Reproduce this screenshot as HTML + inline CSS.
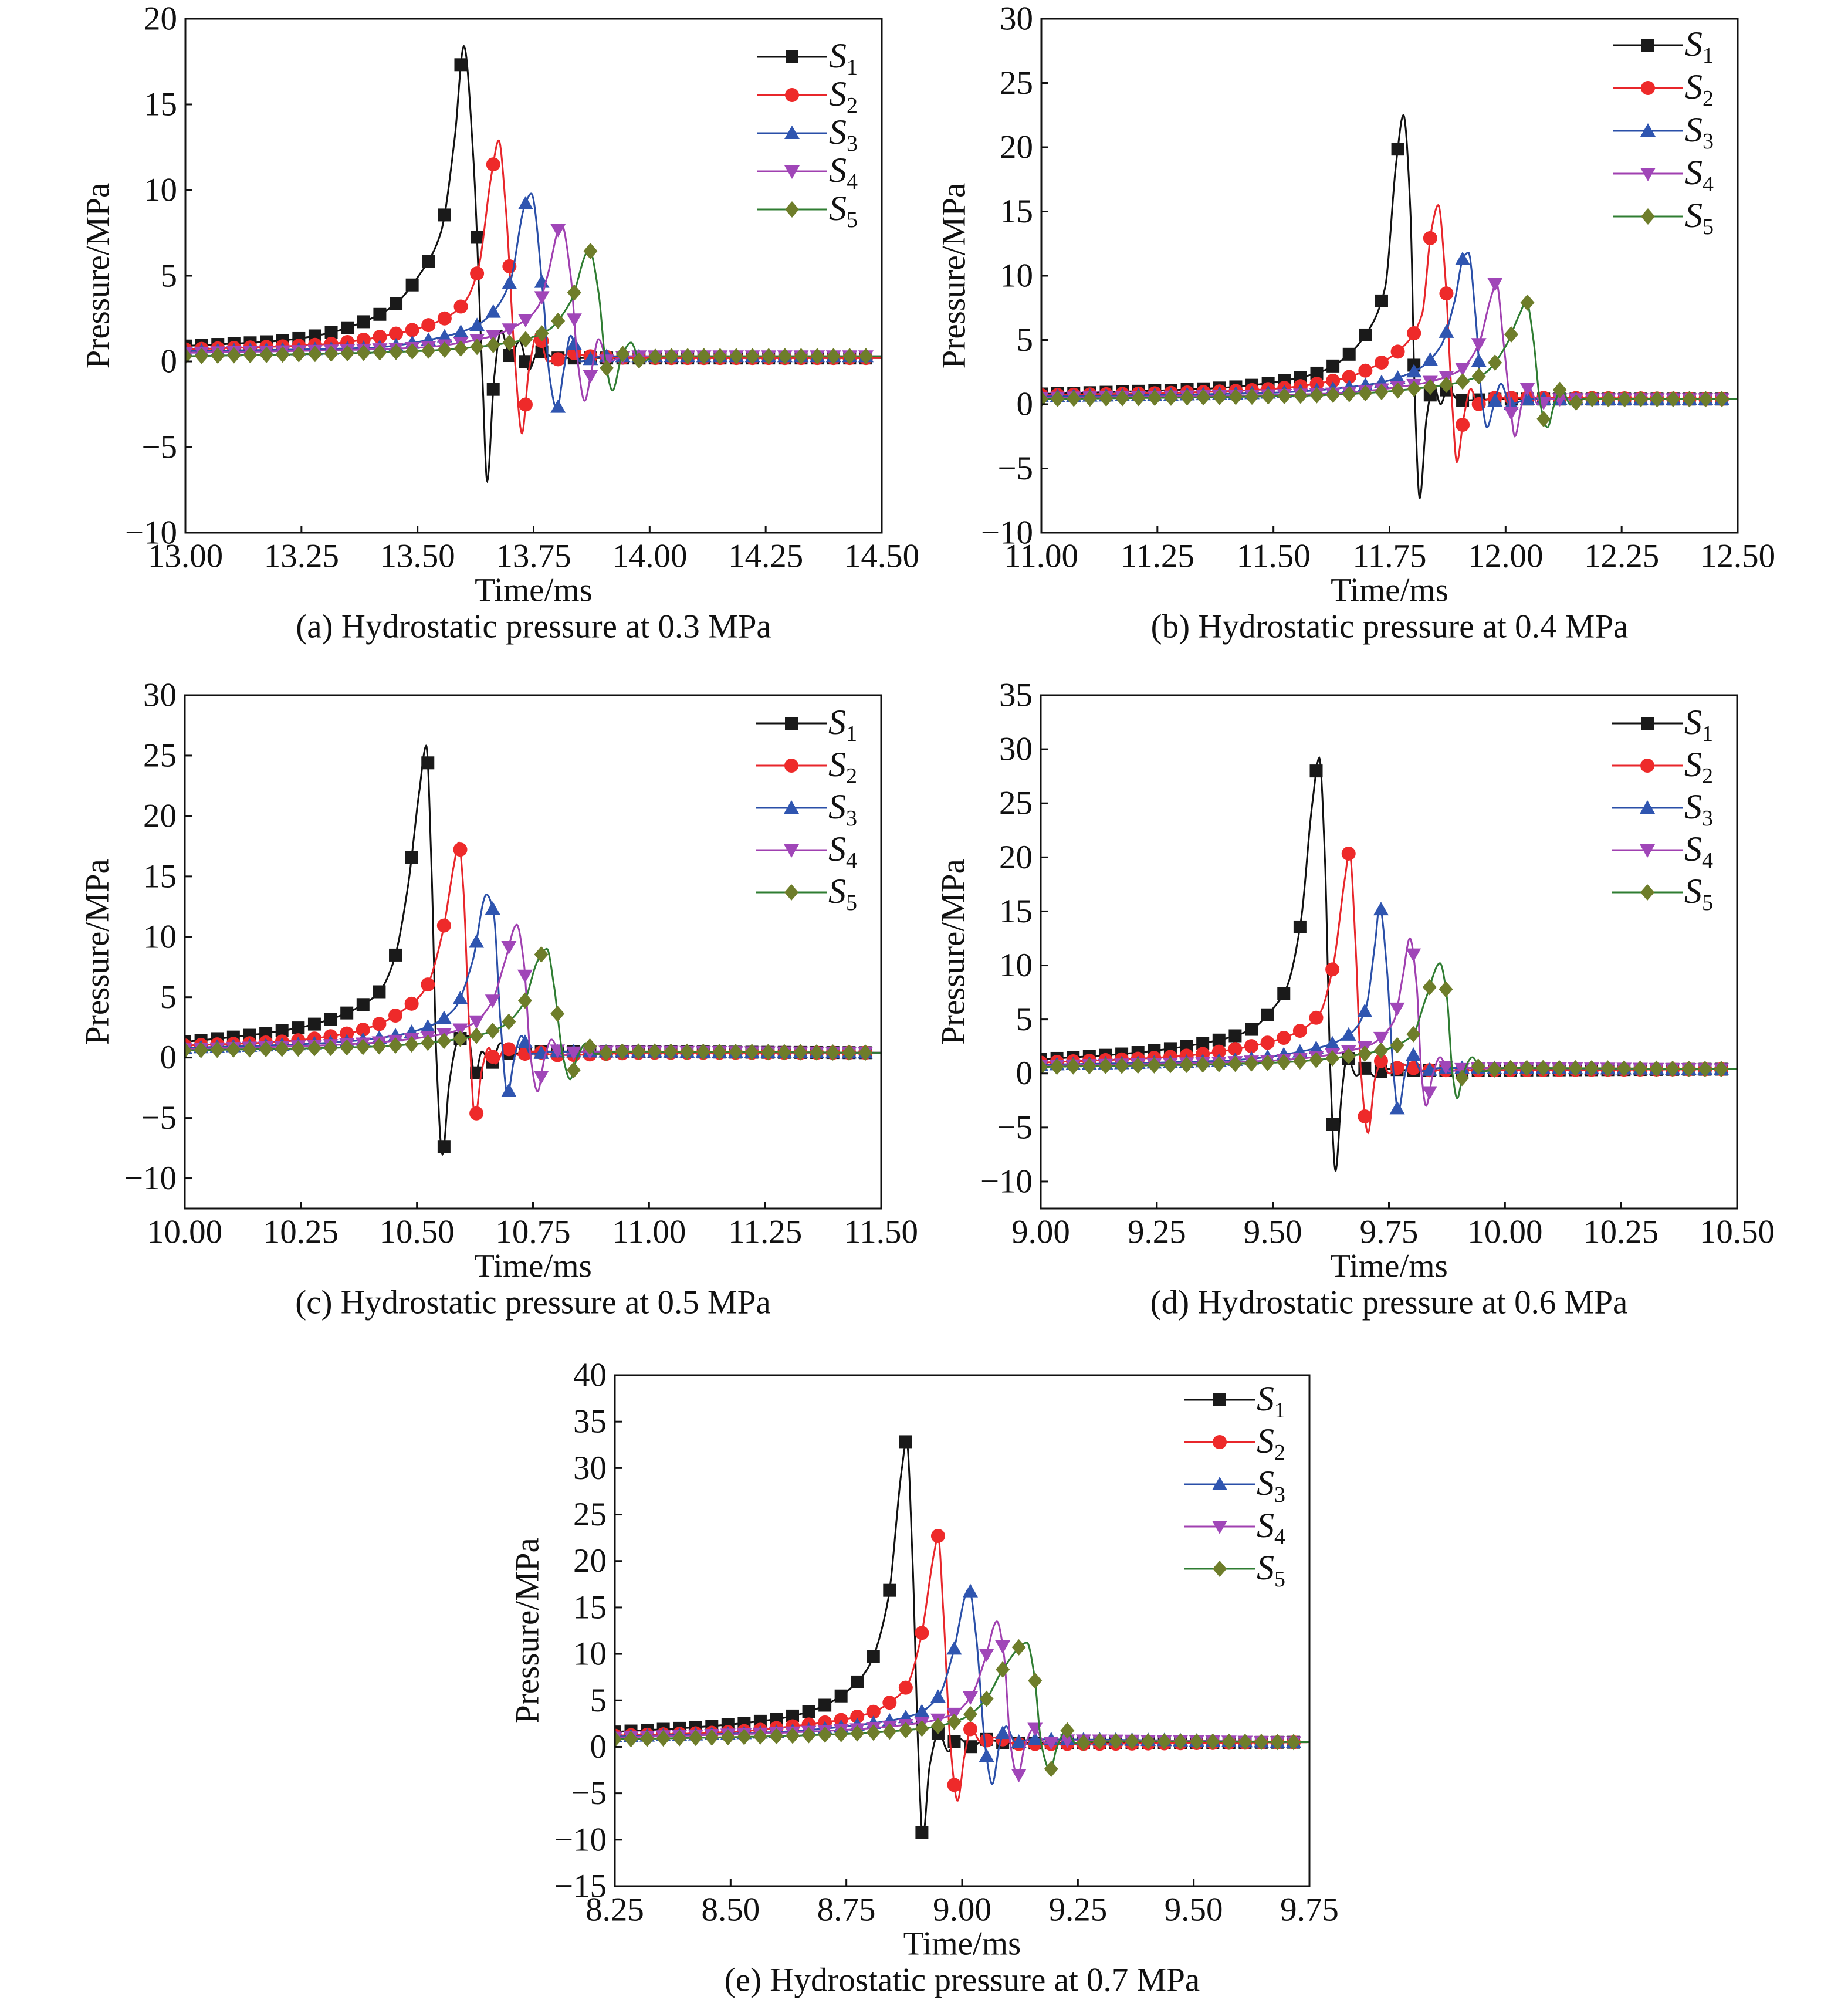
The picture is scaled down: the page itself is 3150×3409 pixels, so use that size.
<!DOCTYPE html>
<html><head><meta charset="utf-8"><style>
html,body{margin:0;padding:0;background:#fff}
svg{display:block}
text{font-family:"Liberation Serif",serif;fill:#111}
</style></head><body>
<svg id="fig" width="3150" height="3409" viewBox="0 0 3150 3409" xmlns="http://www.w3.org/2000/svg"></svg>
<script>
// ---- data (time ms, pressure MPa) ----
const seriesNames = ["S1","S2","S3","S4","S5"];
const captions = ["(a) Hydrostatic pressure at 0.3 MPa","(b) Hydrostatic pressure at 0.4 MPa","(c) Hydrostatic pressure at 0.5 MPa","(d) Hydrostatic pressure at 0.6 MPa","(e) Hydrostatic pressure at 0.7 MPa"];
const xRanges = [[13,14.5],[11,12.5],[10,11.5],[9,10.5],[8.25,9.75]];
const yRanges = [[-10,20],[-10,30],[-12.5,30],[-12.5,35],[-15,40]];
const yTickLists = [[-10,-5,0,5,10,15,20],[-10,-5,0,5,10,15,20,25,30],[-10,-5,0,5,10,15,20,25,30],[-10,-5,0,5,10,15,20,25,30,35],[-15,-10,-5,0,5,10,15,20,25,30,35,40]];
const xTickLists = [[13,13.25,13.5,13.75,14,14.25,14.5],[11,11.25,11.5,11.75,12,12.25,12.5],[10,10.25,10.5,10.75,11,11.25,11.5],[9,9.25,9.5,9.75,10,10.25,10.5],[8.25,8.5,8.75,9,9.25,9.5,9.75]];

const a_S1=[[13,0.9],[13.2,1.2],[13.3,1.6],[13.4,2.5],[13.45,3.3],[13.5,4.9],[13.55,7.5],[13.58,13],[13.6,18.4],[13.62,12],[13.64,-1],[13.65,-7],[13.665,-1],[13.68,1.8],[13.7,0.3],[13.72,1.2],[13.74,-0.5],[13.76,0.6],[13.8,0.2],[14.5,0.2]];
const a_S2=[[13,0.7],[13.3,1.0],[13.45,1.6],[13.55,2.4],[13.6,3.4],[13.63,5.3],[13.66,11],[13.675,12.9],[13.69,9],[13.71,0],[13.725,-4.2],[13.74,-0.5],[13.76,1.8],[13.78,0],[13.8,0.1],[13.83,0.5],[13.87,0.3],[14,0.2],[14.5,0.2]];
const a_S3=[[13,0.6],[13.4,0.8],[13.55,1.4],[13.62,2.0],[13.66,2.8],[13.7,4.7],[13.73,9.0],[13.745,9.8],[13.77,4],[13.785,-1],[13.8,-2.8],[13.815,-0.5],[13.83,1.5],[13.85,0],[13.9,0.3],[14.5,0.3]];
const a_S4=[[13,0.5],[13.5,0.8],[13.65,1.4],[13.72,2.2],[13.76,3.2],[13.78,5],[13.81,8.0],[13.83,5],[13.845,0],[13.86,-2.3],[13.875,-0.5],[13.89,1.3],[13.91,0],[13.95,0.3],[14.5,0.3]];
const a_S5=[[13,0.3],[13.5,0.6],[13.7,1.1],[13.78,1.8],[13.83,3.5],[13.87,6.5],[13.89,4],[13.905,0],[13.92,-1.7],[13.94,0.3],[13.96,1.1],[13.98,0],[14.02,0.3],[14.5,0.3]];

const b_S1=[[11,0.8],[11.2,1.0],[11.4,1.3],[11.5,1.7],[11.6,2.5],[11.65,3.5],[11.7,5.5],[11.74,9],[11.765,19],[11.78,22.5],[11.795,15],[11.805,0],[11.815,-7.3],[11.83,-1],[11.845,1.5],[11.86,0],[11.875,1.2],[11.9,0.3],[12,0.4],[12.5,0.4]];
const b_S2=[[11,0.7],[11.3,0.9],[11.5,1.2],[11.65,2.0],[11.72,3],[11.78,4.5],[11.82,7],[11.84,13.5],[11.855,15.5],[11.87,10],[11.885,0],[11.895,-4.5],[11.91,-1],[11.925,1.2],[11.94,0],[11.97,0.5],[12.5,0.4]];
const b_S3=[[11,0.6],[11.5,0.9],[11.7,1.5],[11.8,2.5],[11.86,4.5],[11.89,8],[11.91,11.5],[11.92,11.8],[11.935,7],[11.95,0],[11.96,-1.8],[11.975,0],[11.99,1.6],[12.01,0],[12.05,0.4],[12.5,0.4]];
const b_S4=[[11,0.5],[11.6,0.8],[11.8,1.5],[11.9,2.6],[11.94,4.5],[11.97,8.5],[11.98,9.5],[11.995,5],[12.01,0],[12.02,-2.5],[12.035,0],[12.05,1.3],[12.07,0],[12.1,0.4],[12.5,0.4]];
const b_S5=[[11,0.4],[11.6,0.7],[11.85,1.4],[11.95,2.3],[12,4.5],[12.03,7],[12.045,8],[12.06,5],[12.075,0],[12.09,-1.8],[12.105,0],[12.12,1.2],[12.14,0],[12.17,0.4],[12.5,0.4]];

const c_S1=[[10,1.3],[10.15,1.9],[10.25,2.5],[10.33,3.4],[10.38,4.3],[10.42,5.5],[10.45,8],[10.48,14],[10.505,22],[10.52,25.8],[10.532,15],[10.542,0],[10.555,-8],[10.57,-2],[10.59,1.5],[10.61,1.8],[10.625,-1.5],[10.64,0.5],[10.66,-0.5],[10.68,1.2],[10.7,0.3],[10.75,0.5],[11.5,0.4]];
const c_S2=[[10,1.0],[10.2,1.3],[10.35,2.0],[10.42,2.8],[10.48,4.2],[10.52,5.8],[10.555,10.3],[10.58,16],[10.59,17.8],[10.6,14],[10.612,3],[10.625,-5],[10.64,-1],[10.655,0.8],[10.67,-0.5],[10.69,0.8],[10.72,0.2],[10.75,0.5],[10.8,0.2],[11,0.4],[11.5,0.4]];
const c_S3=[[10,0.8],[10.3,1.2],[10.45,1.8],[10.52,2.5],[10.58,4],[10.62,8],[10.65,13.5],[10.665,12],[10.68,3],[10.695,-3],[10.71,0],[10.725,1.8],[10.745,0.3],[10.8,0.5],[11.5,0.4]];
const c_S4=[[10,0.7],[10.35,1.1],[10.55,1.9],[10.62,2.8],[10.66,4.5],[10.69,8],[10.715,11],[10.73,8],[10.745,0],[10.76,-2.8],[10.775,0],[10.79,1.5],[10.81,0.2],[10.85,0.5],[11.5,0.4]];
const c_S5=[[10,0.6],[10.4,0.9],[10.6,1.6],[10.68,2.5],[10.73,4.5],[10.76,8],[10.78,9],[10.795,6],[10.815,0],[10.83,-1.8],[10.845,0],[10.865,1.2],[10.885,0.3],[10.93,0.5],[11.5,0.4]];

const d_S1=[[9,1.3],[9.2,1.9],[9.35,2.8],[9.45,4],[9.5,6],[9.53,8],[9.56,14],[9.585,25],[9.6,29.2],[9.612,20],[9.624,0],[9.635,-9],[9.648,-2],[9.66,1.5],[9.68,-0.2],[9.7,0.5],[9.72,-0.3],[9.74,0.4],[9.8,0.3],[10.5,0.4]];
const d_S2=[[9,1.0],[9.3,1.6],[9.45,2.5],[9.53,3.4],[9.6,5.5],[9.63,10],[9.655,18],[9.665,20.5],[9.678,12],[9.69,0],[9.705,-5.5],[9.72,-0.5],[9.735,1.2],[9.75,0],[9.78,0.8],[9.82,0.3],[10.5,0.4]];
const d_S3=[[9,0.8],[9.4,1.2],[9.6,2.4],[9.67,3.8],[9.7,6],[9.72,12],[9.73,15.5],[9.745,10],[9.76,0],[9.77,-3.5],[9.785,0],[9.8,1.8],[9.82,0.2],[9.86,0.5],[10.5,0.4]];
const d_S4=[[9,0.7],[9.5,1.2],[9.7,2.5],[9.76,4.8],[9.78,9],[9.795,12.5],[9.81,8],[9.82,0],[9.83,-3],[9.845,0],[9.86,1.5],[9.88,0.2],[9.92,0.5],[10.5,0.4]];
const d_S5=[[9,0.6],[9.5,1.0],[9.72,2.0],[9.8,3.5],[9.83,7],[9.86,10.2],[9.875,7],[9.887,0],[9.897,-2.3],[9.91,0],[9.93,1.5],[9.95,0.2],[10,0.5],[10.5,0.4]];

const e_S1=[[8.25,1.6],[8.45,2.2],[8.6,3],[8.67,3.8],[8.73,5.2],[8.77,6.8],[8.8,8.8],[8.84,15.8],[8.87,30],[8.88,33],[8.893,20],[8.905,0],[8.915,-9.8],[8.93,-2],[8.95,1.5],[8.97,-0.5],[8.99,1],[9.02,0],[9.05,0.8],[9.1,0.4],[9.75,0.5]];
const e_S2=[[8.25,1.2],[8.5,1.6],[8.65,2.3],[8.75,3],[8.81,3.8],[8.85,5],[8.88,6.5],[8.91,11.5],[8.94,21],[8.948,22.7],[8.96,14],[8.975,0],[8.99,-5.8],[9.005,-1],[9.02,2],[9.04,0.5],[9.07,1],[9.12,0.3],[9.75,0.5]];
const e_S3=[[8.25,1.1],[8.6,1.6],[8.8,2.5],[8.9,3.5],[8.95,5.5],[8.98,10],[9.015,17],[9.03,12],[9.05,0],[9.065,-4],[9.08,0],[9.095,2.2],[9.115,0.5],[9.15,0.8],[9.75,0.5]];
const e_S4=[[8.25,1.0],[8.7,1.7],[8.9,2.5],[8.98,3.5],[9.02,5.5],[9.05,9.5],[9.075,13.5],[9.09,10],[9.105,0],[9.12,-3.2],[9.135,0],[9.155,2],[9.18,0.4],[9.22,0.7],[9.75,0.5]];
const e_S5=[[8.25,0.8],[8.7,1.3],[8.92,2],[9.0,3],[9.05,5],[9.09,8.5],[9.14,11.2],[9.155,8],[9.172,0],[9.19,-2.5],[9.205,0],[9.225,1.8],[9.245,0.4],[9.3,0.6],[9.75,0.5]];

const panelSeries = [[a_S1,a_S2,a_S3,a_S4,a_S5],[b_S1,b_S2,b_S3,b_S4,b_S5],[c_S1,c_S2,c_S3,c_S4,c_S5],[d_S1,d_S2,d_S3,d_S4,d_S5],[e_S1,e_S2,e_S3,e_S4,e_S5]];

// ---- layout ----
const boxes = [
  {l:316,r:1503,t:32,b:908,lg0:65,lgs:65},
  {l:1775,r:2962,t:32,b:908,lg0:45,lgs:73},
  {l:315,r:1502,t:1185,b:2060,lg0:48,lgs:72},
  {l:1774,r:2961,t:1185,b:2060,lg0:48,lgs:72},
  {l:1048,r:2232,t:2344,b:3215,lg0:42,lgs:72}
];
const lineColors = ["#111111","#e8262b","#2a4fa8","#a040b0","#2f7d32"];
const markColors = ["#1a1a1a","#ee2a2a","#2f55b0","#a046b8","#6e7d2a"];
const NS="http://www.w3.org/2000/svg";
const svg=document.getElementById('fig');
function mk(tag,attrs,parent){const e=document.createElementNS(NS,tag);for(const k in attrs)e.setAttribute(k,attrs[k]);(parent||svg).appendChild(e);return e;}

function monotone(pts){
  const n=pts.length,xs=pts.map(p=>p[0]),ys=pts.map(p=>p[1]);
  const d=[],m=new Array(n);
  for(let i=0;i<n-1;i++)d.push((ys[i+1]-ys[i])/(xs[i+1]-xs[i]));
  m[0]=d[0];m[n-1]=d[n-2];
  for(let i=1;i<n-1;i++){ if(d[i-1]*d[i]<=0)m[i]=0; else {const w1=2*(xs[i+1]-xs[i])+(xs[i]-xs[i-1]),w2=(xs[i+1]-xs[i])+2*(xs[i]-xs[i-1]);m[i]=(w1+w2)/(w1/d[i-1]+w2/d[i]);} }
  return function(x){
    let i=0;while(i<n-2&&x>xs[i+1])i++;
    const h=xs[i+1]-xs[i],s=(x-xs[i])/h;
    const h00=2*s*s*s-3*s*s+1,h10=s*s*s-2*s*s+s,h01=-2*s*s*s+3*s*s,h11=s*s*s-s*s;
    return h00*ys[i]+h10*h*m[i]+h01*ys[i+1]+h11*h*m[i+1];
  };
}
function marker(type,x,y,color,g){
  let e;const s=11;
  if(type===0)e=mk('rect',{x:x-s,y:y-s,width:2*s,height:2*s,fill:color},g);
  else if(type===1)e=mk('circle',{cx:x,cy:y,r:12,fill:color},g);
  else if(type===2)e=mk('polygon',{points:`${x},${y-13} ${x+13},${y+10} ${x-13},${y+10}`,fill:color},g);
  else if(type===3)e=mk('polygon',{points:`${x},${y+13} ${x+13},${y-10} ${x-13},${y-10}`,fill:color},g);
  else e=mk('polygon',{points:`${x},${y-14} ${x+12},${y} ${x},${y+14} ${x-12},${y}`,fill:color},g);
  return e;
}
function fmt(v,dec){return (v<0?'\u2212':'')+Math.abs(v).toFixed(dec);}

const letters=['a','b','c','d','e'];
const FS=57;
boxes.forEach((B,p)=>{
  const g=mk('g',{});
  
  
  const [x0,x1]=xRanges[p],[y0,y1]=yRanges[p];
  const X=t=>B.l+(t-x0)/(x1-x0)*(B.r-B.l);
  const Y=v=>B.b-(v-y0)/(y1-y0)*(B.b-B.t);
  const clip='clip'+p;
  const cp=mk('clipPath',{id:clip},g);mk('rect',{x:B.l,y:B.t,width:B.r-B.l,height:B.b-B.t},cp);
  const sg=mk('g',{'clip-path':`url(#${clip})`},g);
  panelSeries[p].forEach((pts,si)=>{
    const f=monotone(pts);
    let d='';
    for(let k=0;k<=1400;k++){const t=x0+(x1-x0)*k/1400;d+=(k?'L':'M')+X(t).toFixed(1)+','+Y(f(t)).toFixed(1);}
    const path=mk('path',{d:d,fill:'none',stroke:lineColors[si],'stroke-width':3},sg);
    
    
    const mg=mk('g',{},sg);
    
    
    for(let t=x0;t<=x1+1e-6;t+=0.0349){marker(si,X(t),Y(f(t)),markColors[si],mg);}
  });
  const fr=mk('rect',{x:B.l,y:B.t,width:B.r-B.l,height:B.b-B.t,fill:'none',stroke:'#111','stroke-width':3},g);
  
  
  yTickLists[p].forEach(v=>{
    mk('line',{x1:B.l,x2:B.l+12,y1:Y(v),y2:Y(v),stroke:'#111','stroke-width':3},g);
    const tx=mk('text',{x:B.l-14,y:Y(v),'font-size':FS,'text-anchor':'end','dominant-baseline':'central'},g);
    tx.textContent=fmt(v,0);
    
    
  });
  xTickLists[p].forEach(v=>{
    mk('line',{x1:X(v),x2:X(v),y1:B.b,y2:B.b-12,stroke:'#111','stroke-width':3},g);
    const tx=mk('text',{x:X(v),y:B.b+40,'font-size':FS,'text-anchor':'middle','dominant-baseline':'central'},g);
    tx.textContent=fmt(v,2);
    
    
  });
  const cx=(B.l+B.r)/2;
  const xt=mk('text',{x:cx,y:B.b+98,'font-size':FS,'text-anchor':'middle','dominant-baseline':'central'},g);
  xt.textContent='Time/ms';
  
  
  const yc=(B.t+B.b)/2;
  const yt=mk('text',{x:B.l-149,y:yc,'font-size':FS,'text-anchor':'middle','dominant-baseline':'central',transform:`rotate(-90 ${B.l-149} ${yc})`},g);
  yt.textContent='Pressure/MPa';
  
  
  const cap=mk('text',{x:cx,y:B.b+160,'font-size':FS,'text-anchor':'middle','dominant-baseline':'central'},g);
  cap.textContent=captions[p];
  
  
  seriesNames.forEach((nm,si)=>{
    const lg=mk('g',{},g);
    
    
    const ly=B.t+B.lg0+si*B.lgs;
    mk('line',{x1:B.r-213,x2:B.r-93,y1:ly,y2:ly,stroke:lineColors[si],'stroke-width':3},lg);
    marker(si,B.r-153,ly,markColors[si],lg);
    const tx=mk('text',{x:B.r-90,y:ly+18,'font-size':60},lg);
    const t1=mk('tspan',{'font-style':'italic'},tx);t1.textContent='S';
    const t2=mk('tspan',{'font-size':38,dy:12},tx);t2.textContent=nm.slice(1);
  });
});
</script>
</body></html>
